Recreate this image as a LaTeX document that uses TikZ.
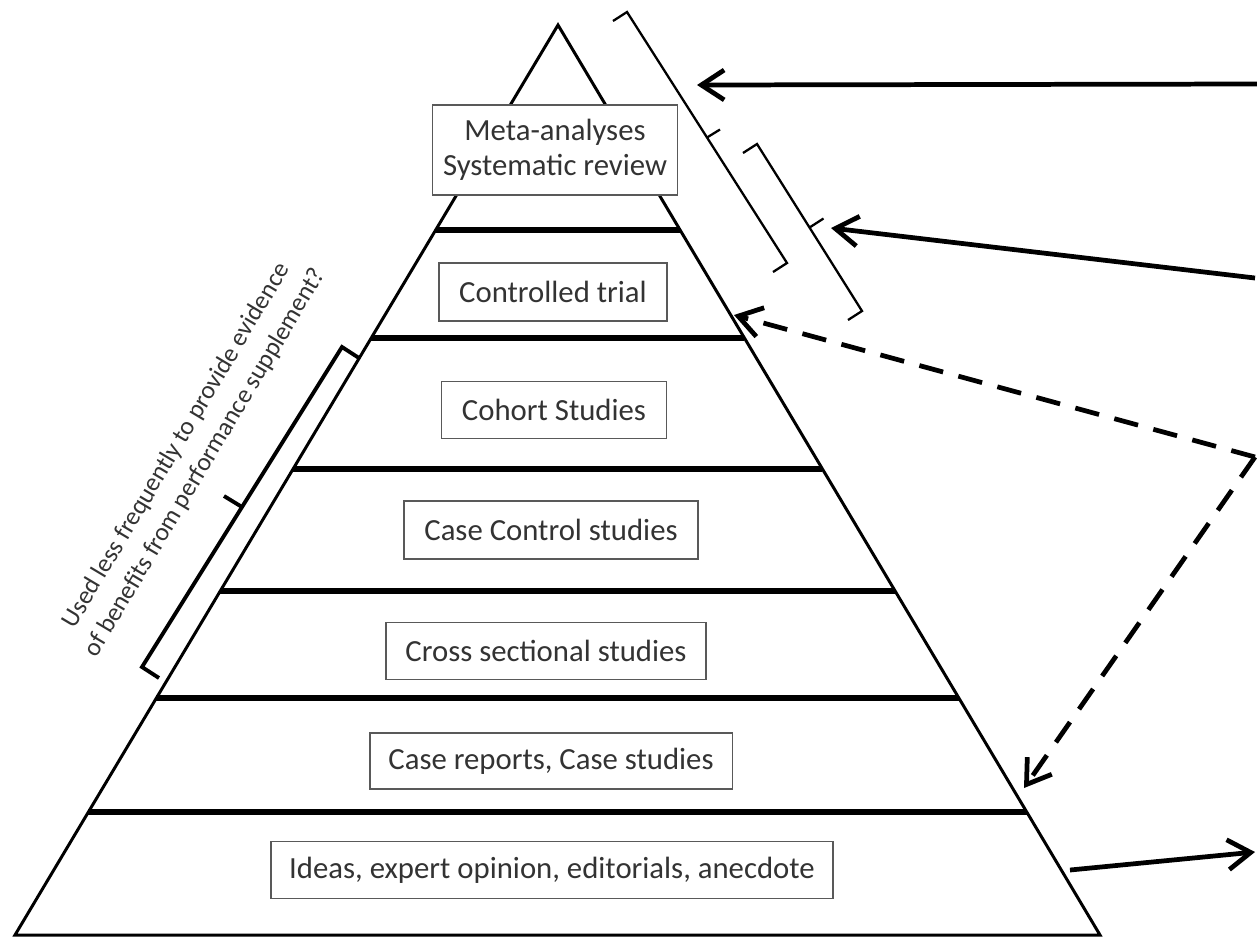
\documentclass[tikz,border=0pt]{standalone}
\usepackage{fontspec}
\setmainfont{Carlito}
\usetikzlibrary{positioning,calc,arrows.meta}

\begin{document}
\begin{tikzpicture}[x=0.02cm, y=-0.02cm,
    level/.style={draw=black!65, line width=1.1pt, fill=white, text=black!80, inner sep=0pt, align=center, font=\fontsize{17.5}{20}\selectfont},
    divider/.style={line width=3pt},
    bracket/.style={line width=1.3pt},
    pointer/.style={line width=2.7pt, -{Straight Barb[length=13pt, width=17pt, line width=2.7pt]}},
    guess/.style={pointer, dash pattern=on 14pt off 9pt}]
    \useasboundingbox (0,0) rectangle (1257,938);
    % pyramid
    \coordinate (apex) at (558,25);
    \coordinate (bl) at (15,935);
    \coordinate (br) at (1100,935);
    \draw[line width=1.7pt] (apex) -- (br) -- (bl) -- cycle;
    \foreach \y in {230,338,469,591,698,812}
        \draw[divider] ($(apex)!{(\y-25)/910}!(bl)$) -- ($(apex)!{(\y-25)/910}!(br)$);
    % levels
    \node[level, minimum width=4.9cm, minimum height=1.8cm] (meta) at (555,150) {Meta-analyses\\Systematic review};
    \node[level, minimum width=4.56cm, minimum height=1.16cm] (trial) at (553,292) {Controlled trial};
    \node[level, minimum width=4.5cm, minimum height=1.14cm] (cohort) at (554,410) {Cohort Studies};
    \node[level, minimum width=5.88cm, minimum height=1.16cm] (casectrl) at (551,530) {Case Control studies};
    \node[level, minimum width=6.4cm, minimum height=1.14cm] (cross) at (546,651) {Cross sectional studies};
    \node[level, minimum width=7.26cm, minimum height=1.12cm] (reports) at (551,761) {Case reports, Case studies};
    \node[level, minimum width=11.26cm, minimum height=1.14cm] (ideas) at (552,870) {Ideas, expert opinion, editorials, anecdote};
    % brackets on the right
    \coordinate (a1) at (627,12);
    \coordinate (a2) at (787,263);
    \draw[bracket] ($(a1)+(-14,9)$) -- (a1) -- (a2) -- ($(a2)+(-14,9)$);
    \draw[bracket] ($(a1)!0.5!(a2)$) -- +(13,-8);
    \coordinate (b1) at (757,144);
    \coordinate (b2) at (862,311);
    \draw[bracket] ($(b1)+(-14,9)$) -- (b1) -- (b2) -- ($(b2)+(-14,9)$);
    \draw[bracket] ($(b1)!0.5!(b2)$) -- +(14,-9);
    % bracket on the left
    \coordinate (c1) at (342,347);
    \coordinate (c2) at (142,667);
    \draw[bracket, line width=2.2pt] ($(c1)+(17,11)$) -- (c1) -- (c2) -- ($(c2)+(17,11)$);
    \draw[bracket, line width=2.2pt] ($(c1)!0.5!(c2)$) -- +(-18,-11);
    \node[text=black!80, font=\fontsize{14.5}{19}\selectfont, rotate=59.2, align=center] (less) at (191,454)
        {Used less frequently to provide evidence\\of benefits from performance supplement?};
    % arrows
    \coordinate (s1) at (1257,84);
    \coordinate (t1) at (697,85);
    \draw[pointer] (s1) -- (t1);
    \coordinate (s2) at (1255,278);
    \coordinate (t2) at (831,228);
    \draw[pointer] (s2) -- (t2);
    \coordinate (knee) at (1255,457);
    \coordinate (t3) at (734,315);
    \coordinate (t4) at (1024,788);
    \draw[guess] (knee) -- (t3);
    \draw[guess] (knee) -- (t4);
    \coordinate (s5) at (1070,870);
    \coordinate (t5) at (1255,852);
    \draw[pointer] (s5) -- (t5);
\end{tikzpicture}
\end{document}
